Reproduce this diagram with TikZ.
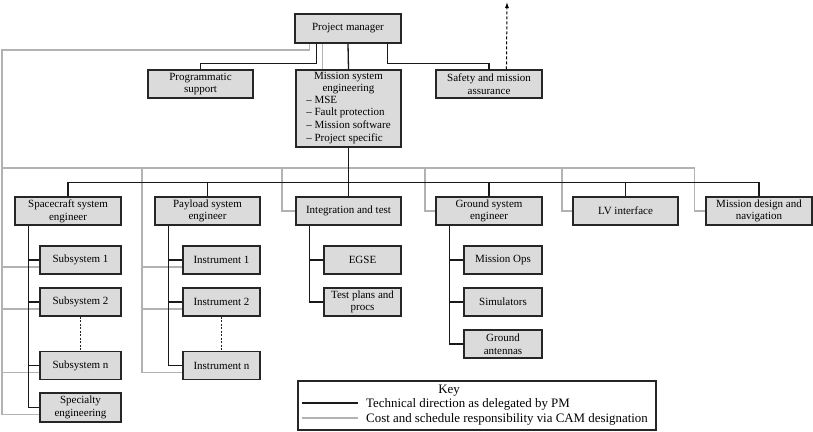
\documentclass[tikz,border=0pt]{standalone}
\usepackage{fontspec}
\setmainfont{Liberation Serif}
\usetikzlibrary{calc,arrows.meta}
\begin{document}
\begin{tikzpicture}[x=1pt,y=-1pt,
 box/.style={draw=black!85,line width=1.1pt,fill=black!14,align=center,inner sep=1pt,font=\fontsize{11}{12.7}\selectfont},
 tech/.style={line width=1.3pt,black!90},
 cost/.style={line width=1.3pt,black!30},
 dots/.style={line width=1pt,black!85,dash pattern=on 2pt off 1.5pt},
 keytext/.style={anchor=base west,inner sep=0pt,font=\fontsize{12.9}{15}\selectfont},
]
\useasboundingbox (0,0) rectangle (813,431);
% top level
\node[box,minimum width=106pt,minimum height=29pt] (pm) at (348,28.5) {Project manager};
\node[box,minimum width=105pt,minimum height=28pt] (prog) at (200.5,84) {Programmatic\\support};
\node[box,minimum width=105pt,minimum height=77pt] (mse) at (348.5,108.5) {Mission system\\engineering\\[-1pt]\begin{tabular}{@{}l@{}}– MSE\\– Fault protection\\– Mission software\\– Project specific\end{tabular}};
\node[box,minimum width=106pt,minimum height=28pt] (sma) at (489,84) {Safety and mission\\assurance};
% second row
\node[box,minimum width=106pt,minimum height=28pt] (sc) at (68,211) {Spacecraft system\\engineer};
\node[box,minimum width=105pt,minimum height=28pt] (pl) at (207.5,211) {Payload system\\engineer};
\node[box,minimum width=105pt,minimum height=28pt] (int) at (348.5,211) {Integration and test};
\node[box,minimum width=106pt,minimum height=28pt] (gse) at (489,211) {Ground system\\engineer};
\node[box,minimum width=105pt,minimum height=28pt] (lv) at (625.5,211) {LV interface};
\node[box,minimum width=106pt,minimum height=28pt] (md) at (759,211) {Mission design and\\navigation};
% third level
\node[box,minimum width=81pt,minimum height=28pt] (sub1) at (80.5,260) {Subsystem 1};
\node[box,minimum width=81pt,minimum height=28pt] (sub2) at (80.5,302) {Subsystem 2};
\node[box,minimum width=81pt,minimum height=28pt] (subn) at (80.5,365.5) {Subsystem n};
\node[box,minimum width=81pt,minimum height=29pt] (spec) at (80.5,407.5) {Specialty\\engineering};
\node[box,minimum width=77pt,minimum height=28pt] (in1) at (221.5,260) {Instrument 1};
\node[box,minimum width=77pt,minimum height=28pt] (in2) at (221.5,302) {Instrument 2};
\node[box,minimum width=77pt,minimum height=28pt] (inn) at (221.5,365.5) {Instrument n};
\node[box,minimum width=77pt,minimum height=28pt] (egse) at (362.5,260) {EGSE};
\node[box,minimum width=77pt,minimum height=28pt] (tp) at (362.5,302) {Test plans and\\procs};
\node[box,minimum width=78pt,minimum height=28pt] (mops) at (503,260) {Mission Ops};
\node[box,minimum width=78pt,minimum height=28pt] (sim) at (503,302) {Simulators};
\node[box,minimum width=78pt,minimum height=28pt] (gant) at (503,344) {Ground\\antennas};

% cost (gray) connectors
\coordinate (gtop) at (2,50);
\coordinate (gmid) at (2,168);
\coordinate (gp) at (142,168);
\coordinate (gi) at (282,168);
\coordinate (gg) at (425,168);
\coordinate (gl) at (562,168);
\draw[cost] ($(pm.south west)+(15,0)$) |- (gtop) |- ($(spec.west)+(0,7)$);
\draw[cost] ($(pm.south west)+(28,0)$) -- ($(mse.north west)+(27,0)$);
\draw[cost] (gmid) -| ($(md.west)+(-11,0)$) -- (md.west);
\draw[cost] (gi) |- (int.west);
\draw[cost] (gg) |- (gse.west);
\draw[cost] (gl) |- (lv.west);
\coordinate (gs1) at ($(sub1.west)+(0,7)$);
\coordinate (gs2) at ($(sub2.west)+(0,7)$);
\coordinate (gsn) at ($(subn.west)+(0,7)$);
\draw[cost] (gs1) -- (gs1 -| gtop);
\draw[cost] (gs2) -- (gs2 -| gtop);
\draw[cost] (gsn) -- (gsn -| gtop);
\coordinate (gi1) at ($(in1.west)+(0,7)$);
\coordinate (gi2) at ($(in2.west)+(0,7)$);
\coordinate (gin) at ($(inn.west)+(0,7)$);
\draw[cost] (gp) |- (gin);
\draw[cost] (gi1) -- (gi1 -| gp);
\draw[cost] (gi2) -- (gi2 -| gp);

% technical (black) connectors
\draw[tech] (pm.south) -- (mse.north);
\draw[tech] ($(pm.south west)+(22,0)$) -- ++(0,20) -| (prog.north);
\draw[tech] ($(pm.south east)+(-14,0)$) -- ++(0,20) -| (sma.north);
\draw[tech] (mse.south) -- (int.north);
\draw[tech] (sc.north) -- ++(0,-14) -| (md.north);
\draw[tech] (pl.north) -- ++(0,-14);
\draw[tech] (gse.north) -- ++(0,-14);
\draw[tech] (lv.north) -- ++(0,-14);
% spacecraft
\coordinate (bs) at ($(sc.south west)+(14,0)$);
\draw[tech] (bs) |- (spec.west);
\draw[tech] (bs |- sub1.west) -- (sub1.west);
\draw[tech] (bs |- sub2.west) -- (sub2.west);
\draw[tech] (bs |- subn.west) -- (subn.west);
% payload
\coordinate (bp) at ($(pl.south west)+(14,0)$);
\draw[tech] (bp) |- (inn.west);
\draw[tech] (bp |- in1.west) -- (in1.west);
\draw[tech] (bp |- in2.west) -- (in2.west);
% integration
\coordinate (bi) at ($(int.south west)+(14,0)$);
\draw[tech] (bi) |- (tp.west);
\draw[tech] (bi |- egse.west) -- (egse.west);
% ground
\coordinate (bg) at ($(gse.south west)+(14,0)$);
\draw[tech] (bg) |- (gant.west);
\draw[tech] (bg |- mops.west) -- (mops.west);
\draw[tech] (bg |- sim.west) -- (sim.west);
% dotted continuation
\draw[dots] (sub2.south) -- (subn.north);
\draw[dots] (in2.south) -- (inn.north);
% dashed arrow
\coordinate (arrtop) at (507,2);
\draw[line width=1pt,dash pattern=on 3pt off 2pt,-{Latex[length=6pt,width=4pt]}] ($(sma.north west)+(71,0)$) -- (arrtop);

% key
\node[draw=black!85,line width=1.1pt,minimum width=358pt,minimum height=49pt,inner sep=0pt] (key) at (477,405.5) {};
\node[anchor=base,inner sep=0pt,font=\fontsize{12.9}{15}\selectfont] (keyt) at (449,393) {Key};
\coordinate (k1a) at (302,403);
\coordinate (k1b) at (358,403);
\coordinate (k2a) at (302,418);
\coordinate (k2b) at (358,418);
\draw[tech] (k1a) -- (k1b);
\draw[cost] (k2a) -- (k2b);
\node[keytext] (kt1) at (366,407) {Technical direction as delegated by PM};
\node[keytext] (kt2) at (366,422) {Cost and schedule responsibility via CAM designation};
\end{tikzpicture}
\end{document}
